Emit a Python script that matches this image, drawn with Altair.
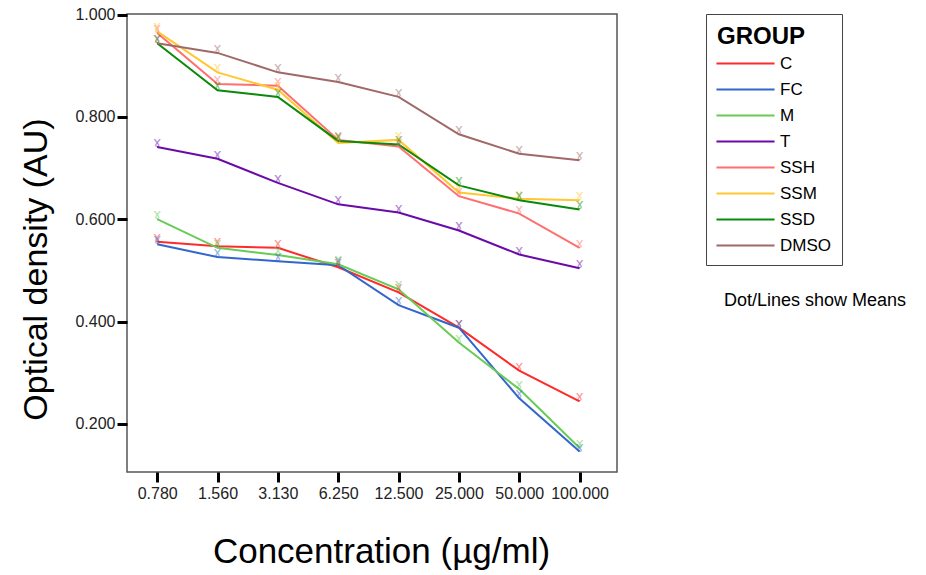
import json
import altair as alt
import pandas as pd

conc = ["0.780", "1.560", "3.130", "6.250", "12.500", "25.000", "50.000", "100.000"]
groups = ["C", "FC", "M", "T", "SSH", "SSM", "SSD", "DMSO"]
C = [0.556, 0.547, 0.544, 0.506, 0.457, 0.388, 0.304, 0.244]
FC = [0.551, 0.526, 0.518, 0.510, 0.432, 0.388, 0.250, 0.146]
M = [0.600, 0.544, 0.530, 0.512, 0.463, 0.359, 0.268, 0.153]
T = [0.741, 0.718, 0.671, 0.629, 0.613, 0.578, 0.531, 0.504]
SSH = [0.964, 0.864, 0.861, 0.755, 0.742, 0.645, 0.611, 0.544]
SSM = [0.967, 0.887, 0.853, 0.749, 0.755, 0.652, 0.640, 0.637]
SSD = [0.944, 0.852, 0.839, 0.753, 0.746, 0.666, 0.637, 0.619]
DMSO = [0.944, 0.925, 0.887, 0.868, 0.839, 0.766, 0.728, 0.715]
colors = ["#ff2a2a", "#3366cc", "#66cc55", "#6a0aa8", "#ff6f6f", "#ffc830", "#0a8a0a", "#a06868"]
note = "Dot/Lines show Means"

series = dict(zip(groups, [C, FC, M, T, SSH, SSM, SSD, DMSO]))
rows = []
for g, vals in series.items():
    for i, v in enumerate(vals):
        rows.append({"GROUP": g, "idx": i, "conc": conc[i], "od": v})
df = pd.DataFrame(rows)

label_expr = json.dumps(conc) + "[datum.value]"

x = alt.X("idx:Q", scale=alt.Scale(domain=[-0.5, 7.62], nice=False, zero=False),
          axis=alt.Axis(values=list(range(len(conc))), labelExpr=label_expr,
                        tickSize=10, tickWidth=3, tickColor="black", domain=False, grid=False,
                        labelFontSize=16, labelPadding=3, labelColor="#222",
                        title="Concentration (µg/ml)", titleFontSize=35, titleFontWeight="normal",
                        titleX=254, titleY=90, titleBaseline="alphabetic", titleAlign="center",
                        titleColor="black"))
y = alt.Y("od:Q", scale=alt.Scale(domain=[0.106, 1.001], nice=False, zero=False),
          axis=alt.Axis(values=[0.2, 0.4, 0.6, 0.8, 1.0], format=".3f",
                        tickSize=10, tickWidth=3, tickColor="black", domain=False, grid=False,
                        labelFontSize=16, labelPadding=2, labelColor="#222",
                        title="Optical density (AU)", titleFontSize=34, titleFontWeight="normal",
                        titleAngle=270, titleX=-81, titleY=255, titleBaseline="alphabetic",
                        titleAlign="center", titleColor="black"))

color_scale = alt.Scale(domain=groups, range=colors)

lines = alt.Chart(df).mark_line(strokeWidth=2).encode(
    x=x, y=y,
    color=alt.Color("GROUP:N", scale=color_scale, sort=groups,
                    legend=alt.Legend(orient="none", legendX=579, legendY=0,
                                      title="GROUP", titleFontSize=24, titleFontWeight="bold",
                                      titleColor="black", titlePadding=6,
                                      labelFontSize=17, labelColor="black",
                                      symbolType="M-5,0H5", symbolSize=135, symbolStrokeWidth=2,
                                      symbolOffset=20, labelOffset=26,
                                      strokeColor="#444", padding=11, rowPadding=8)),
    order=alt.Order("idx:Q"),
)

markers = alt.Chart(df).mark_text(text="ɤ", font="DejaVu Sans", fontSize=14, baseline="bottom",
                                  dy=3, opacity=0.5).encode(
    x=x, y=y,
    color=alt.Color("GROUP:N", scale=color_scale, legend=None),
)

note_df = pd.DataFrame({"t": [note]})
note_text = alt.Chart(note_df).mark_text(align="left", baseline="alphabetic", fontSize=18,
                                         color="black").encode(
    text="t:N", x=alt.value(597), y=alt.value(292))

chart = alt.layer(lines, markers, note_text).properties(
    width=490, height=458,
    autosize=alt.AutoSizeParams(type="none"),
    padding={"left": 119, "top": 6, "right": 301, "bottom": 100},
).configure(font="Liberation Sans").configure_view(stroke="#555555", strokeWidth=1.5)

chart.save("out.html", embed_options={"renderer": "svg", "actions": False})
